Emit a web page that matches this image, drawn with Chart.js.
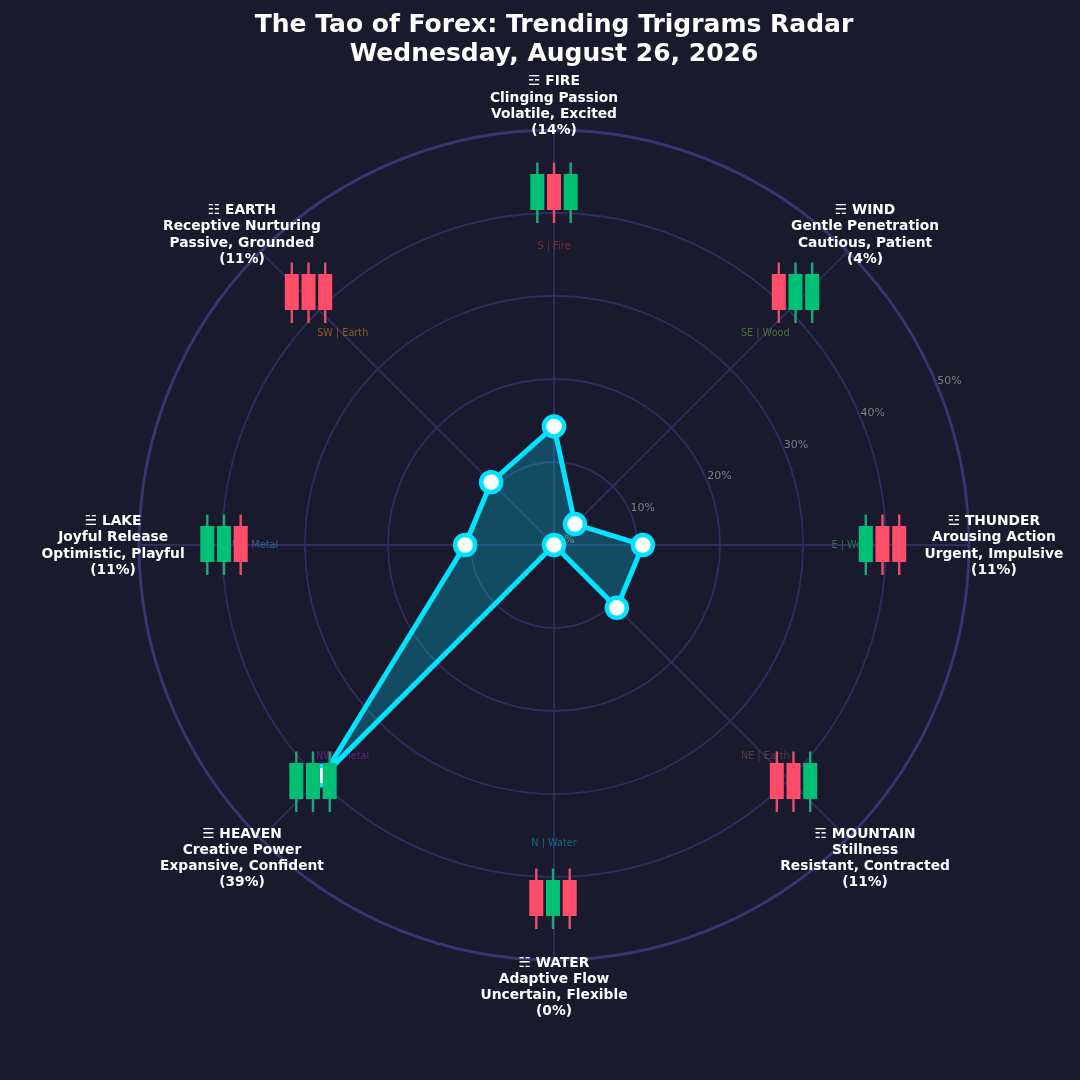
<!DOCTYPE html>
<html>
<head>
<meta charset="utf-8">
<script src="https://cdn.jsdelivr.net/npm/chart.js@4"></script>
<style>
html,body{margin:0;padding:0;background:#1a1a2e;}
canvas{display:block;}
</style>
</head>
<body>
<canvas id="c" width="1080" height="1080" style="width:1080px;height:1080px"></canvas>
<script>
const titleLines = ["The Tao of Forex: Trending Trigrams Radar", "Wednesday, August 26, 2026"];
const categories = ["FIRE", "WIND", "THUNDER", "MOUNTAIN", "WATER", "HEAVEN", "LAKE", "EARTH"];
const trigrams = ["☲", "☴", "☳", "☶", "☵", "☰", "☱", "☷"];
const qualities = ["Clinging Passion", "Gentle Penetration", "Arousing Action", "Stillness", "Adaptive Flow", "Creative Power", "Joyful Release", "Receptive Nurturing"];
const moods = ["Volatile, Excited", "Cautious, Patient", "Urgent, Impulsive", "Resistant, Contracted", "Uncertain, Flexible", "Expansive, Confident", "Optimistic, Playful", "Passive, Grounded"];
const percents = [14.29, 3.57, 10.71, 10.71, 0, 39.29, 10.71, 10.71];
const directions = ["S | Fire", "SE | Wood", "E | Wood", "NE | Earth", "N | Water", "NW | Metal", "W | Metal", "SW | Earth"];
const candleUp = [
  [1, 0, 1],
  [0, 1, 1],
  [1, 0, 0],
  [0, 0, 1],
  [0, 1, 0],
  [1, 1, 1],
  [1, 1, 0],
  [0, 0, 0]
];
const radialTicks = [0, 10, 20, 30, 40, 50];

const FONT = '"DejaVu Sans", sans-serif';
const directionColors = ["#7e2a3a", "#4e7034", "#32704c", "#523e42", "#166c86", "#602288", "#2e5f9a", "#8c5f1e"];
/* pixel nudges of each candle group from the chart centre */
const candleAnchor = [[0,-353],[241.5,-253],[328.5,-1],[239.5,236],[-1,353],[-241,236],[-330,-1],[-245.5,-253]];

const underlay = {
  id: 'underlay',
  beforeDatasetsDraw(chart) {
    const r = chart.scales.r, ctx = chart.ctx;
    ctx.save();
    ctx.textAlign = 'center';
    ctx.textBaseline = 'middle';
    ctx.font = '9.7px ' + FONT;
    directions.forEach((t, i) => {
      const p = r.getPointPosition(i, r.getDistanceFromCenterForValue(36));
      ctx.fillStyle = directionColors[i];
      ctx.fillText(t, p.x, p.y);
    });
    ctx.font = '11px ' + FONT;
    ctx.fillStyle = '#7f7f86';
    radialTicks.forEach(v => {
      const p = r.getPointPosition(1.5, r.getDistanceFromCenterForValue(v) + 13);
      ctx.fillText(v + '%', p.x, p.y);
    });
    ctx.restore();
  }
};

const overlay = {
  id: 'overlay',
  afterDatasetsDraw(chart) {
    const r = chart.scales.r, ctx = chart.ctx;
    ctx.save();
    // candles
    candleUp.forEach((group, i) => {
      const cx = r.xCenter + candleAnchor[i][0], cy = r.yCenter + candleAnchor[i][1];
      group.forEach((up, k) => {
        const x = cx + (k - 1) * 16.7;
        ctx.fillStyle = up ? '#1fa57c' : '#e64f6c';
        ctx.fillRect(x - 1.2, cy - 29.5, 2.4, 60.5);
        ctx.fillStyle = up ? '#00c076' : '#ff4d69';
        ctx.fillRect(x - 7, cy - 18, 14, 36);
      });
    });
    // labels
    ctx.textAlign = 'center';
    ctx.textBaseline = 'middle';
    ctx.fillStyle = '#ffffff';
    ctx.font = 'bold 13.8px ' + FONT;
    categories.forEach((c, i) => {
      const p = r.getPointPosition(i, r.getDistanceFromCenterForValue(53));
      const lines = [trigrams[i] + ' ' + c, qualities[i], moods[i], '(' + Math.round(percents[i]) + '%)'];
      const nudgeX = p.x < r.xCenter - 1 ? -1 : 0;
      const nudgeY = p.y > r.yCenter + 1 ? 2.5 : 1;
      lines.forEach((l, j) => ctx.fillText(l, p.x + nudgeX, p.y + nudgeY + (j - 1.5) * 16.2));
    });
    ctx.restore();
  }
};

new Chart(document.getElementById('c'), {
  type: 'radar',
  plugins: [underlay, overlay],
  data: {
    labels: categories,
    datasets: [{
      data: percents,
      borderColor: '#00e5ff',
      backgroundColor: 'rgba(0,229,255,0.25)',
      borderWidth: 5,
      fill: true,
      tension: 0,
      pointBackgroundColor: '#ffffff',
      pointBorderColor: '#00e5ff',
      pointBorderWidth: 4.5,
      pointRadius: 10,
      pointHoverRadius: 10
    }]
  },
  options: {
    responsive: false,
    animation: false,
    devicePixelRatio: 1,
    layout: { padding: { left: 138, right: 110, top: 0, bottom: 119.5 } },
    plugins: {
      legend: { display: false },
      tooltip: { enabled: false },
      title: {
        display: true,
        text: titleLines,
        color: '#ffffff',
        font: { family: FONT, size: 25, weight: 'bold', lineHeight: 1.14 },
        padding: { top: 11.5, bottom: 61.7 }
      }
    },
    scales: {
      r: {
        min: 0,
        max: 50,
        ticks: { display: false, stepSize: 10 },
        pointLabels: { display: false },
        angleLines: { display: true, color: '#302e5e', lineWidth: 1.8 },
        grid: {
          circular: true,
          color: c => c.tick && c.tick.value === 50 ? '#3a3572' : '#302e5e',
          lineWidth: c => c.tick && c.tick.value === 50 ? 2.8 : 1.8
        }
      }
    }
  }
});
</script>
</body>
</html>
